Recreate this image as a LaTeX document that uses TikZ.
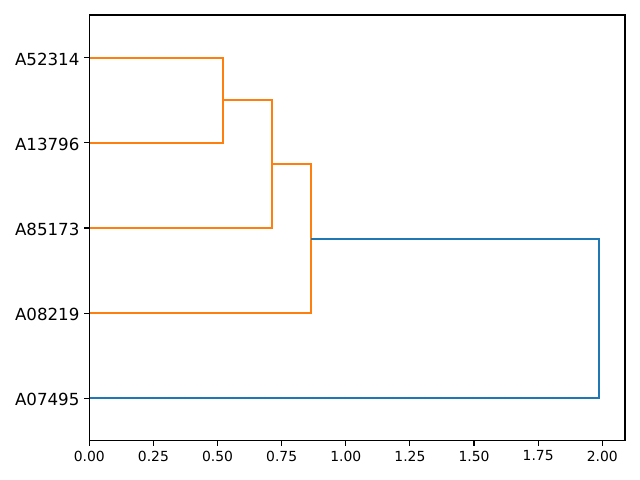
\documentclass[tikz,border=0pt]{standalone}
\usepackage{fontspec}
\setmainfont{DejaVu Sans}
\definecolor{mplorange}{HTML}{FF7F0E}
\definecolor{mplblue}{HTML}{1F77B4}
\begin{document}
\begin{tikzpicture}[x=0.72pt,y=-0.72pt,
  link/.style={line width=1.5pt, line join=miter},
  axisline/.style={line width=0.8pt, line join=miter},
  tickmark/.style={line width=0.8pt},
  leaflabel/.style={anchor=east, inner sep=0pt, font=\fontsize{12}{14}\selectfont},
  ticklabel/.style={anchor=north, inner sep=0pt, font=\fontsize{10}{12}\selectfont}]
\useasboundingbox (0,0) rectangle (640,480);
\fill[white] (0,0) rectangle (640,480);
% leaves on the left axis
\coordinate (L1) at (89.3,57.6);
\coordinate (L2) at (89.3,142.8);
\coordinate (L3) at (89.3,228.0);
\coordinate (L4) at (89.3,313.2);
\coordinate (L5) at (89.3,398.4);
% merge points
\coordinate (m1) at (223,100.2);
\coordinate (m2) at (272,164.1);
\coordinate (m3) at (311,238.65);
\coordinate (m4) at (599,318.5);
% links
\draw[link, mplorange] (L1) -| (m1) |- (L2);
\draw[link, mplorange] (m1) -| (m2) |- (L3);
\draw[link, mplorange] (m2) -| (m3) |- (L4);
\draw[link, mplblue] (m3) -| (m4) |- (L5);
% axes frame
\draw[axisline] (89.3,15) rectangle (625,440.7);
% y ticks and labels
\foreach \n/\lab in {L1/A52314,L2/A13796,L3/A85173,L4/A08219,L5/A07495}{
  \draw[tickmark] (\n) -- ++(-4.9,0);
  \node[leaflabel] (lab\lab) at ([xshift=-9.6*0.72pt,yshift=-1.5*0.72pt]\n) {\lab};
}
% x ticks and labels
\foreach \i/\lab in {0/0.00,1/0.25,2/0.50,3/0.75,4/1.00,5/1.25,6/1.50,7/1.75,8/2.00}{
  \coordinate (xt\i) at ({89.3+\i*64.125},440.7);
  \draw[tickmark] (xt\i) -- ++(0,4.9);
  \node[ticklabel] (xl\i) at ([yshift=-9.8*0.72pt]xt\i) {\lab};
}
\end{tikzpicture}
\end{document}
